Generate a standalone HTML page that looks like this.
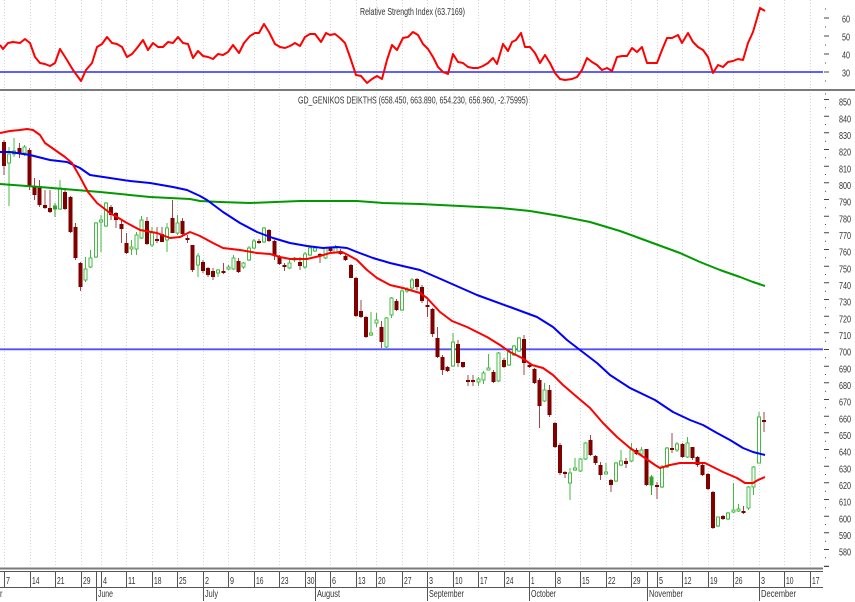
<!DOCTYPE html>
<html><head><meta charset="utf-8"><style>
html,body{margin:0;padding:0;background:#fff;}
svg{display:block;}
text{font-family:"Liberation Sans",Arial,sans-serif;font-size:10px;fill:#333;}
.r path{stroke:#a04848;fill:none;stroke-width:1}
.r path+path{fill:#800000;stroke:none}
.g path{stroke:#44bb44;fill:none;stroke-width:1}
.g path+path{fill:#fff}
.gf path{stroke:#33aa33;fill:none}
.gf path+path{fill:#22aa22}
</style></head><body>
<svg width="855" height="602" viewBox="0 0 855 602" xmlns="http://www.w3.org/2000/svg">
<rect width="855" height="602" fill="#fff"/>
<!-- vertical dotted grid -->
<g stroke="#d6d6d6" stroke-width="1" stroke-dasharray="1 2">
<path d="M4.5 0V567M30.5 0V567M55.5 0V567M81.5 0V567M101.5 0V567M126.5 0V567M152.5 0V567M177.5 0V567M203.5 0V567M228.5 0V567M254.5 0V567M279.5 0V567M305.5 0V567M330.5 0V567M356.5 0V567M376.5 0V567M402.5 0V567M427.5 0V567M453.5 0V567M478.5 0V567M504.5 0V567M529.5 0V567M555.5 0V567M580.5 0V567M606.5 0V567M631.5 0V567M657.5 0V567M682.5 0V567M708.5 0V567M733.5 0V567M759.5 0V567M784.5 0V567M810.5 0V567"/>
</g>
<!-- panel separator -->
<rect x="0" y="89" width="855" height="2" fill="#7a7a7a"/>
<!-- RSI panel -->
<text x="360" y="15" textLength="105" lengthAdjust="spacingAndGlyphs">Relative Strength Index (63.7169)</text>
<line x1="0" y1="72" x2="823" y2="72" stroke="#2a2aff" stroke-width="1.4"/>
<polyline fill="none" stroke="#ff0000" stroke-width="2" stroke-linejoin="round" points="0,45 3,49 8,43 13,42 20,43 25,39 30,43 35,57 40,63 45,64 50,66 55,63 60,49 67,60 73,70 81,81 86,70 92,63 97,47 102,44 107,37 112,43 117,44 122,47 127,57 132,54 137,48 143,40 148,50 153,43 158,47 163,47 168,42 173,43 178,37 183,43 188,44 193,58 198,51 203,56 208,57 213,59 218,54 223,55 228,52 233,45 239,53 244,43 250,36 255,33 259,33 264,24 269,32 275,44 280,47 285,48 290,46 295,43 300,46 305,37 310,34 315,34 321,42 326,33 330,35 335,34 340,38 345,43 350,57 356,75 361,76 367,83 372,79 377,76 382,79 387,60 392,45 397,50 403,38 408,37 413,32 418,35 423,44 428,49 433,57 438,67 443,72 448,74 453,54 458,62 463,63 468,67 473,68 478,68 483,66 488,63 493,58 497,64 503,44 508,51 512,42 516,40 521,33 525,47 530,47 535,53 540,63 545,55 550,63 555,73 560,79 565,80 572,79 577,77 582,70 587,58 592,62 597,65 602,70 607,68 612,71 617,57 622,56 627,56 632,48 637,52 642,47 647,63 652,63 657,63 662,50 667,38 672,38 678,35 682,43 688,33 693,42 698,47 703,50 708,57 713,73 718,65 723,67 728,62 733,61 738,59 743,60 748,43 753,32 760,8 765,11"/>
<g stroke="#444" stroke-width="1">
<path d="M824 18h5M824 36h5M824 54h5M824 72h5"/>
<path d="M825 9h1M825 27h1M825 45h1M825 63h1M825 81h1"/>
</g>
<text x="842" y="22.7" textLength="8" lengthAdjust="spacingAndGlyphs">60</text>
<text x="842" y="40.5" textLength="8" lengthAdjust="spacingAndGlyphs">50</text>
<text x="842" y="58.5" textLength="8" lengthAdjust="spacingAndGlyphs">40</text>
<text x="842" y="76.5" textLength="8" lengthAdjust="spacingAndGlyphs">30</text>
<!-- main panel -->
<text x="298" y="103.5" textLength="230" lengthAdjust="spacingAndGlyphs">GD_GENIKOS DEIKTHS (658.450, 663.890, 654.230, 656.960, -2.75995)</text>
<line x1="0" y1="349.3" x2="823" y2="349.3" stroke="#5050ff" stroke-width="1.8"/>
<!-- candles -->
<g shape-rendering="crispEdges">
<g class="r" transform="translate(4)"><path d="M0 140V175"/><path d="M-2 142H2V166H-2Z"/></g>
<g class="g" transform="translate(9.1)"><path d="M0 147V206"/><path d="M-1.5 154H1.5V163H-1.5Z"/></g>
<g class="g" transform="translate(14.2)"><path d="M0 138V157"/><path d="M-1.5 151H1.5V154H-1.5Z"/></g>
<g class="r" transform="translate(19.3)"><path d="M0 143V158"/><path d="M-2 148H2V154H-2Z"/></g>
<g class="g" transform="translate(24.4)"><path d="M0 145V156"/><path d="M-1.5 147H1.5V153H-1.5Z"/></g>
<g class="r" transform="translate(29.5)"><path d="M0 148V190"/><path d="M-2 150H2V186H-2Z"/></g>
<g class="r" transform="translate(34.6)"><path d="M0 178V200"/><path d="M-2 186H2V195H-2Z"/></g>
<g class="r" transform="translate(39.7)"><path d="M0 180V207"/><path d="M-2 188H2V205H-2Z"/></g>
<g class="r" transform="translate(44.8)"><path d="M0 190V209"/><path d="M-2 205H2V208H-2Z"/></g>
<g class="r" transform="translate(49.9)"><path d="M0 190V213"/><path d="M-2 208H2V212H-2Z"/></g>
<g class="gf" transform="translate(55)"><path d="M0 203V217"/><path d="M-1.5 206H1.5V209H-1.5Z"/></g>
<g class="g" transform="translate(60.1)"><path d="M0 180V210"/><path d="M-1.5 188H1.5V209H-1.5Z"/></g>
<g class="r" transform="translate(65.2)"><path d="M0 190V210"/><path d="M-2 192H2V209H-2Z"/></g>
<g class="r" transform="translate(70.3)"><path d="M0 196V233"/><path d="M-2 197H2V232H-2Z"/></g>
<g class="r" transform="translate(75.4)"><path d="M0 223V260"/><path d="M-2 227H2V258H-2Z"/></g>
<g class="r" transform="translate(80.5)"><path d="M0 262V291"/><path d="M-2 263H2V287H-2Z"/></g>
<g class="g" transform="translate(85.6)"><path d="M0 257V282"/><path d="M-1.5 269H1.5V280H-1.5Z"/></g>
<g class="g" transform="translate(90.7)"><path d="M0 250V268"/><path d="M-1.5 258H1.5V267H-1.5Z"/></g>
<g class="g" transform="translate(95.8)"><path d="M0 222V258"/><path d="M-1.5 223H1.5V257H-1.5Z"/></g>
<g class="g" transform="translate(100.9)"><path d="M0 215V252"/><path d="M-1.5 220H1.5V222H-1.5Z"/></g>
<g class="g" transform="translate(106)"><path d="M0 202V227"/><path d="M-1.5 203H1.5V226H-1.5Z"/></g>
<g class="r" transform="translate(111.1)"><path d="M0 205V220"/><path d="M-2 207H2V215H-2Z"/></g>
<g class="r" transform="translate(116.2)"><path d="M0 212V228"/><path d="M-2 213H2V220H-2Z"/></g>
<g class="r" transform="translate(121.3)"><path d="M0 220V243"/><path d="M-2 224H2V229H-2Z"/></g>
<g class="r" transform="translate(126.4)"><path d="M0 233V254"/><path d="M-2 243H2V253H-2Z"/></g>
<g class="g" transform="translate(131.5)"><path d="M0 240V255"/><path d="M-1.5 247H1.5V249H-1.5Z"/></g>
<g class="g" transform="translate(136.6)"><path d="M0 232V255"/><path d="M-1.5 235H1.5V249H-1.5Z"/></g>
<g class="g" transform="translate(141.7)"><path d="M0 216V239"/><path d="M-1.5 220H1.5V238H-1.5Z"/></g>
<g class="r" transform="translate(146.8)"><path d="M0 217V245"/><path d="M-2 221H2V244H-2Z"/></g>
<g class="g" transform="translate(151.9)"><path d="M0 227V247"/><path d="M-1.5 233H1.5V245H-1.5Z"/></g>
<g class="r" transform="translate(157)"><path d="M0 227V243"/><path d="M-2 239H2V241H-2Z"/></g>
<g class="r" transform="translate(162.1)"><path d="M0 227V242"/><path d="M-2 234H2V242H-2Z"/></g>
<g class="g" transform="translate(167.2)"><path d="M0 223V252"/><path d="M-1.5 228H1.5V240H-1.5Z"/></g>
<g class="r" transform="translate(172.3)"><path d="M0 200V233"/><path d="M-2 218H2V233H-2Z"/></g>
<g class="g" transform="translate(177.4)"><path d="M0 215V235"/><path d="M-1.5 223H1.5V233H-1.5Z"/></g>
<g class="r" transform="translate(182.5)"><path d="M0 218V237"/><path d="M-2 221H2V234H-2Z"/></g>
<g class="r" transform="translate(187.6)"><path d="M0 235V243"/><path d="M-2 238H2V240H-2Z"/></g>
<g class="r" transform="translate(192.7)"><path d="M0 245V272"/><path d="M-2 245H2V270H-2Z"/></g>
<g class="g" transform="translate(197.8)"><path d="M0 253V277"/><path d="M-1.5 256H1.5V265H-1.5Z"/></g>
<g class="r" transform="translate(202.9)"><path d="M0 260V273"/><path d="M-2 262H2V271H-2Z"/></g>
<g class="r" transform="translate(208)"><path d="M0 267V277"/><path d="M-2 268H2V275H-2Z"/></g>
<g class="r" transform="translate(213.1)"><path d="M0 268V280"/><path d="M-2 271H2V277H-2Z"/></g>
<g class="g" transform="translate(218.2)"><path d="M0 269V277"/><path d="M-1.5 270H1.5V273H-1.5Z"/></g>
<g class="r" transform="translate(223.3)"><path d="M0 263V274"/><path d="M-2 271H2V273H-2Z"/></g>
<g class="g" transform="translate(228.4)"><path d="M0 265V270"/><path d="M-1.5 267H1.5V269H-1.5Z"/></g>
<g class="g" transform="translate(233.5)"><path d="M0 255V270"/><path d="M-1.5 258H1.5V269H-1.5Z"/></g>
<g class="r" transform="translate(238.6)"><path d="M0 258V273"/><path d="M-2 261H2V272H-2Z"/></g>
<g class="g" transform="translate(243.7)"><path d="M0 262V269"/><path d="M-1.5 263H1.5V267H-1.5Z"/></g>
<g class="g" transform="translate(248.8)"><path d="M0 246V261"/><path d="M-1.5 248H1.5V260H-1.5Z"/></g>
<g class="g" transform="translate(253.9)"><path d="M0 239V249"/><path d="M-1.5 241H1.5V248H-1.5Z"/></g>
<g class="r" transform="translate(259)"><path d="M0 239V244"/><path d="M-2 241H2V243H-2Z"/></g>
<g class="g" transform="translate(264.1)"><path d="M0 227V243"/><path d="M-1.5 228H1.5V242H-1.5Z"/></g>
<g class="r" transform="translate(269.2)"><path d="M0 229V242"/><path d="M-2 230H2V241H-2Z"/></g>
<g class="r" transform="translate(274.3)"><path d="M0 240V260"/><path d="M-2 241H2V255H-2Z"/></g>
<g class="r" transform="translate(279.4)"><path d="M0 255V265"/><path d="M-2 257H2V264H-2Z"/></g>
<g class="r" transform="translate(284.5)"><path d="M0 263V271"/><path d="M-2 265H2V267H-2Z"/></g>
<g class="g" transform="translate(289.6)"><path d="M0 260V269"/><path d="M-1.5 263H1.5V268H-1.5Z"/></g>
<g class="g" transform="translate(294.7)"><path d="M0 257V262"/><path d="M-1.5 258H1.5V260H-1.5Z"/></g>
<g class="r" transform="translate(299.8)"><path d="M0 257V270"/><path d="M-2 262H2V266H-2Z"/></g>
<g class="g" transform="translate(304.9)"><path d="M0 252V269"/><path d="M-1.5 254H1.5V267H-1.5Z"/></g>
<g class="g" transform="translate(310)"><path d="M0 247V256"/><path d="M-1.5 248H1.5V255H-1.5Z"/></g>
<g class="g" transform="translate(315.1)"><path d="M0 246V252"/><path d="M-1.5 248H1.5V251H-1.5Z"/></g>
<g class="r" transform="translate(320.2)"><path d="M0 253V263"/><path d="M-2 254H2V256H-2Z"/></g>
<g class="g" transform="translate(325.3)"><path d="M0 247V259"/><path d="M-1.5 248H1.5V258H-1.5Z"/></g>
<g class="r" transform="translate(330.4)"><path d="M0 247V252"/><path d="M-2 248H2V251H-2Z"/></g>
<g class="g" transform="translate(335.5)"><path d="M0 245V253"/><path d="M-1.5 248H1.5V253H-1.5Z"/></g>
<g class="r" transform="translate(340.6)"><path d="M0 249V255"/><path d="M-2 251H2V254H-2Z"/></g>
<g class="r" transform="translate(345.7)"><path d="M0 255V261"/><path d="M-2 256H2V260H-2Z"/></g>
<g class="r" transform="translate(350.8)"><path d="M0 264V278"/><path d="M-2 265H2V278H-2Z"/></g>
<g class="r" transform="translate(355.9)"><path d="M0 277V317"/><path d="M-2 278H2V316H-2Z"/></g>
<g class="r" transform="translate(361)"><path d="M0 300V318"/><path d="M-2 311H2V317H-2Z"/></g>
<g class="r" transform="translate(366.1)"><path d="M0 316V338"/><path d="M-2 317H2V337H-2Z"/></g>
<g class="g" transform="translate(371.2)"><path d="M0 312V336"/><path d="M-1.5 333H1.5V335H-1.5Z"/></g>
<g class="g" transform="translate(376.3)"><path d="M0 313V327"/><path d="M-1.5 320H1.5V323H-1.5Z"/></g>
<g class="r" transform="translate(381.4)"><path d="M0 321V348"/><path d="M-2 327H2V342H-2Z"/></g>
<g class="g" transform="translate(386.5)"><path d="M0 317V348"/><path d="M-1.5 318H1.5V347H-1.5Z"/></g>
<g class="g" transform="translate(391.6)"><path d="M0 297V318"/><path d="M-1.5 298H1.5V315H-1.5Z"/></g>
<g class="r" transform="translate(396.7)"><path d="M0 299V311"/><path d="M-2 301H2V310H-2Z"/></g>
<g class="g" transform="translate(401.8)"><path d="M0 288V311"/><path d="M-1.5 291H1.5V310H-1.5Z"/></g>
<g class="g" transform="translate(406.9)"><path d="M0 287V293"/><path d="M-1.5 289H1.5V291H-1.5Z"/></g>
<g class="g" transform="translate(412)"><path d="M0 278V290"/><path d="M-1.5 280H1.5V288H-1.5Z"/></g>
<g class="r" transform="translate(417.1)"><path d="M0 278V290"/><path d="M-2 279H2V287H-2Z"/></g>
<g class="r" transform="translate(422.2)"><path d="M0 285V303"/><path d="M-2 287H2V301H-2Z"/></g>
<g class="r" transform="translate(427.3)"><path d="M0 300V317"/><path d="M-2 305H2V307H-2Z"/></g>
<g class="r" transform="translate(432.4)"><path d="M0 308V337"/><path d="M-2 309H2V334H-2Z"/></g>
<g class="r" transform="translate(437.5)"><path d="M0 327V358"/><path d="M-2 338H2V357H-2Z"/></g>
<g class="r" transform="translate(442.6)"><path d="M0 355V375"/><path d="M-2 357H2V370H-2Z"/></g>
<g class="r" transform="translate(447.7)"><path d="M0 366V372"/><path d="M-2 367H2V371H-2Z"/></g>
<g class="g" transform="translate(452.8)"><path d="M0 333V367"/><path d="M-1.5 342H1.5V366H-1.5Z"/></g>
<g class="r" transform="translate(457.9)"><path d="M0 340V367"/><path d="M-2 344H2V363H-2Z"/></g>
<g class="r" transform="translate(463)"><path d="M0 362V368"/><path d="M-2 362H2V367H-2Z"/></g>
<g class="r" transform="translate(468.1)"><path d="M0 375V386"/><path d="M-2 380H2V382H-2Z"/></g>
<g class="r" transform="translate(473.2)"><path d="M0 375V386"/><path d="M-2 380H2V382H-2Z"/></g>
<g class="g" transform="translate(478.3)"><path d="M0 377V386"/><path d="M-1.5 379H1.5V382H-1.5Z"/></g>
<g class="g" transform="translate(483.4)"><path d="M0 371V384"/><path d="M-1.5 373H1.5V380H-1.5Z"/></g>
<g class="g" transform="translate(488.5)"><path d="M0 354V370"/><path d="M-1.5 368H1.5V370H-1.5Z"/></g>
<g class="r" transform="translate(493.6)"><path d="M0 370V383"/><path d="M-2 372H2V382H-2Z"/></g>
<g class="g" transform="translate(498.7)"><path d="M0 352V382"/><path d="M-1.5 353H1.5V381H-1.5Z"/></g>
<g class="r" transform="translate(503.8)"><path d="M0 358V368"/><path d="M-2 360H2V367H-2Z"/></g>
<g class="g" transform="translate(508.9)"><path d="M0 350V366"/><path d="M-1.5 352H1.5V365H-1.5Z"/></g>
<g class="g" transform="translate(514)"><path d="M0 345V356"/><path d="M-1.5 346H1.5V355H-1.5Z"/></g>
<g class="g" transform="translate(519.1)"><path d="M0 337V352"/><path d="M-1.5 338H1.5V351H-1.5Z"/></g>
<g class="r" transform="translate(524.2)"><path d="M0 335V375"/><path d="M-2 339H2V363H-2Z"/></g>
<g class="r" transform="translate(529.3)"><path d="M0 363V368"/><path d="M-2 365H2V367H-2Z"/></g>
<g class="r" transform="translate(534.4)"><path d="M0 368V384"/><path d="M-2 369H2V383H-2Z"/></g>
<g class="r" transform="translate(539.5)"><path d="M0 378V428"/><path d="M-2 380H2V406H-2Z"/></g>
<g class="g" transform="translate(544.6)"><path d="M0 383V402"/><path d="M-1.5 390H1.5V401H-1.5Z"/></g>
<g class="r" transform="translate(549.7)"><path d="M0 385V417"/><path d="M-2 390H2V415H-2Z"/></g>
<g class="r" transform="translate(554.8)"><path d="M0 422V448"/><path d="M-2 423H2V447H-2Z"/></g>
<g class="r" transform="translate(559.9)"><path d="M0 443V475"/><path d="M-2 445H2V473H-2Z"/></g>
<g class="r" transform="translate(565)"><path d="M0 471V478"/><path d="M-2 472H2V474H-2Z"/></g>
<g class="g" transform="translate(570.1)"><path d="M0 468V500"/><path d="M-1.5 473H1.5V483H-1.5Z"/></g>
<g class="g" transform="translate(575.2)"><path d="M0 458V471"/><path d="M-1.5 468H1.5V470H-1.5Z"/></g>
<g class="g" transform="translate(580.3)"><path d="M0 458V472"/><path d="M-1.5 459H1.5V471H-1.5Z"/></g>
<g class="g" transform="translate(585.4)"><path d="M0 442V460"/><path d="M-1.5 443H1.5V459H-1.5Z"/></g>
<g class="r" transform="translate(590.5)"><path d="M0 435V456"/><path d="M-2 440H2V455H-2Z"/></g>
<g class="r" transform="translate(595.6)"><path d="M0 455V465"/><path d="M-2 456H2V463H-2Z"/></g>
<g class="r" transform="translate(600.7)"><path d="M0 462V480"/><path d="M-2 465H2V475H-2Z"/></g>
<g class="g" transform="translate(605.8)"><path d="M0 463V474"/><path d="M-1.5 472H1.5V474H-1.5Z"/></g>
<g class="r" transform="translate(610.9)"><path d="M0 479V492"/><path d="M-2 480H2V485H-2Z"/></g>
<g class="g" transform="translate(616)"><path d="M0 462V482"/><path d="M-1.5 463H1.5V481H-1.5Z"/></g>
<g class="g" transform="translate(621.1)"><path d="M0 450V466"/><path d="M-1.5 461H1.5V465H-1.5Z"/></g>
<g class="r" transform="translate(626.2)"><path d="M0 458V468"/><path d="M-2 461H2V464H-2Z"/></g>
<g class="g" transform="translate(631.3)"><path d="M0 443V462"/><path d="M-1.5 450H1.5V461H-1.5Z"/></g>
<g class="r" transform="translate(636.4)"><path d="M0 448V455"/><path d="M-2 450H2V454H-2Z"/></g>
<g class="g" transform="translate(641.5)"><path d="M0 447V455"/><path d="M-1.5 450H1.5V454H-1.5Z"/></g>
<g class="r" transform="translate(646.6)"><path d="M0 449V486"/><path d="M-2 449H2V485H-2Z"/></g>
<g class="gf" transform="translate(651.7)"><path d="M0 475V495"/><path d="M-1.5 477H1.5V485H-1.5Z"/></g>
<g class="r" transform="translate(656.8)"><path d="M0 482V499"/><path d="M-2 485H2V487H-2Z"/></g>
<g class="g" transform="translate(661.9)"><path d="M0 465V488"/><path d="M-1.5 467H1.5V487H-1.5Z"/></g>
<g class="g" transform="translate(667)"><path d="M0 447V468"/><path d="M-1.5 448H1.5V467H-1.5Z"/></g>
<g class="r" transform="translate(672.1)"><path d="M0 433V453"/><path d="M-2 448H2V450H-2Z"/></g>
<g class="g" transform="translate(677.2)"><path d="M0 442V452"/><path d="M-1.5 444H1.5V450H-1.5Z"/></g>
<g class="r" transform="translate(682.3)"><path d="M0 443V458"/><path d="M-2 444H2V457H-2Z"/></g>
<g class="g" transform="translate(687.4)"><path d="M0 437V458"/><path d="M-1.5 443H1.5V457H-1.5Z"/></g>
<g class="r" transform="translate(692.5)"><path d="M0 447V460"/><path d="M-2 447H2V458H-2Z"/></g>
<g class="r" transform="translate(697.6)"><path d="M0 456V467"/><path d="M-2 457H2V465H-2Z"/></g>
<g class="r" transform="translate(702.7)"><path d="M0 463V476"/><path d="M-2 465H2V475H-2Z"/></g>
<g class="r" transform="translate(707.8)"><path d="M0 473V490"/><path d="M-2 474H2V489H-2Z"/></g>
<g class="r" transform="translate(712.9)"><path d="M0 491V529"/><path d="M-2 492H2V528H-2Z"/></g>
<g class="g" transform="translate(718)"><path d="M0 517V527"/><path d="M-1.5 517H1.5V526H-1.5Z"/></g>
<g class="r" transform="translate(723.1)"><path d="M0 515V520"/><path d="M-2 516H2V519H-2Z"/></g>
<g class="g" transform="translate(728.2)"><path d="M0 512V520"/><path d="M-1.5 513H1.5V519H-1.5Z"/></g>
<g class="g" transform="translate(733.3)"><path d="M0 483V513"/><path d="M-1.5 510H1.5V512H-1.5Z"/></g>
<g class="g" transform="translate(738.4)"><path d="M0 504V512"/><path d="M-1.5 509H1.5V511H-1.5Z"/></g>
<g class="r" transform="translate(743.5)"><path d="M0 506V514"/><path d="M-2 511H2V513H-2Z"/></g>
<g class="g" transform="translate(748.6)"><path d="M0 486V510"/><path d="M-1.5 487H1.5V508H-1.5Z"/></g>
<g class="g" transform="translate(753.7)"><path d="M0 466V495"/><path d="M-1.5 467H1.5V487H-1.5Z"/></g>
<g class="g" transform="translate(758.8)"><path d="M0 412V463"/><path d="M-1.5 417H1.5V463H-1.5Z"/></g>
<g class="r" transform="translate(763.9)"><path d="M0 412V432"/><path d="M-2 420H2V422H-2Z"/></g>
</g>
<!-- moving averages -->
<polyline fill="none" stroke="#009a00" stroke-width="2" stroke-linejoin="round" points="0,184 40,187 100,192 150,197 190,199 200,201 220,202 250,203 300,201 357,201 383,203 420,204 460,206 500,208 530,211 560,216 590,222 620,231 650,242 680,253 700,262 720,270 740,277 753,282 765,286"/>
<polyline fill="none" stroke="#0000ff" stroke-width="2" stroke-linejoin="round" points="0,152 10,152 30,155 50,160 67,162 80,168 90,175 110,178 130,181 150,183 173,187 187,190 200,196 207,200 223,212 240,223 257,232 273,238 290,243 307,246 323,248 337,247 347,248 357,252 373,258 390,263 407,267 420,270 443,280 477,295 510,307 537,317 553,327 567,340 580,350 597,363 610,375 630,388 655,400 673,412 690,420 703,425 717,433 730,440 743,448 753,452 765,455"/>
<polyline fill="none" stroke="#ff0000" stroke-width="2" stroke-linejoin="round" points="0,133 10,131 20,130 27,129 33,130 40,135 45,143 55,150 65,157 72,163 80,177 88,192 97,203 110,213 127,223 140,230 157,233 170,238 180,237 190,232 200,236 213,243 223,248 240,250 257,253 270,254 280,257 290,259 307,259 320,256 330,253 342,252 348,255 357,260 367,270 377,278 390,285 403,288 420,293 427,298 440,312 452,321 467,327 487,337 500,345 510,352 522,358 532,365 543,368 553,375 563,385 577,397 590,408 603,423 617,437 630,448 645,458 655,465 660,468 670,465 680,463 690,463 705,463 713,467 723,472 737,478 745,483 753,483 758,480 765,477"/>
<!-- main price axis -->
<g stroke="#444" stroke-width="1">
<path d="M824 99.5h5M824 116.2h5M824 132.8h5M824 149.5h5M824 166.2h5M824 182.8h5M824 199.5h5M824 216.2h5M824 232.8h5M824 249.5h5M824 266.2h5M824 282.8h5M824 299.5h5M824 316.2h5M824 332.8h5M824 349.5h5M824 366.2h5M824 382.8h5M824 399.5h5M824 416.2h5M824 432.8h5M824 449.5h5M824 466.2h5M824 482.8h5M824 499.5h5M824 516.2h5M824 532.8h5M824 549.5h5M824 566.2h5"/>
<path d="M825 94h1M825 107.8h1M825 124.5h1M825 141.2h1M825 157.8h1M825 174.5h1M825 191.2h1M825 207.8h1M825 224.5h1M825 241.2h1M825 257.8h1M825 274.5h1M825 291.2h1M825 307.8h1M825 324.5h1M825 341.2h1M825 357.8h1M825 374.5h1M825 391.2h1M825 407.8h1M825 424.5h1M825 441.2h1M825 457.8h1M825 474.5h1M825 491.2h1M825 507.8h1M825 524.5h1M825 541.2h1M825 557.8h1"/>
</g>
<g>
<text x="839" y="105.7" textLength="12" lengthAdjust="spacingAndGlyphs">850</text>
<text x="839" y="122.4" textLength="12" lengthAdjust="spacingAndGlyphs">840</text>
<text x="839" y="139" textLength="12" lengthAdjust="spacingAndGlyphs">830</text>
<text x="839" y="155.7" textLength="12" lengthAdjust="spacingAndGlyphs">820</text>
<text x="839" y="172.4" textLength="12" lengthAdjust="spacingAndGlyphs">810</text>
<text x="839" y="189" textLength="12" lengthAdjust="spacingAndGlyphs">800</text>
<text x="839" y="205.7" textLength="12" lengthAdjust="spacingAndGlyphs">790</text>
<text x="839" y="222.4" textLength="12" lengthAdjust="spacingAndGlyphs">780</text>
<text x="839" y="239" textLength="12" lengthAdjust="spacingAndGlyphs">770</text>
<text x="839" y="255.7" textLength="12" lengthAdjust="spacingAndGlyphs">760</text>
<text x="839" y="272.4" textLength="12" lengthAdjust="spacingAndGlyphs">750</text>
<text x="839" y="289" textLength="12" lengthAdjust="spacingAndGlyphs">740</text>
<text x="839" y="305.7" textLength="12" lengthAdjust="spacingAndGlyphs">730</text>
<text x="839" y="322.4" textLength="12" lengthAdjust="spacingAndGlyphs">720</text>
<text x="839" y="339" textLength="12" lengthAdjust="spacingAndGlyphs">710</text>
<text x="839" y="355.7" textLength="12" lengthAdjust="spacingAndGlyphs">700</text>
<text x="839" y="372.4" textLength="12" lengthAdjust="spacingAndGlyphs">690</text>
<text x="839" y="389" textLength="12" lengthAdjust="spacingAndGlyphs">680</text>
<text x="839" y="405.7" textLength="12" lengthAdjust="spacingAndGlyphs">670</text>
<text x="839" y="422.4" textLength="12" lengthAdjust="spacingAndGlyphs">660</text>
<text x="839" y="439" textLength="12" lengthAdjust="spacingAndGlyphs">650</text>
<text x="839" y="455.7" textLength="12" lengthAdjust="spacingAndGlyphs">640</text>
<text x="839" y="472.4" textLength="12" lengthAdjust="spacingAndGlyphs">630</text>
<text x="839" y="489" textLength="12" lengthAdjust="spacingAndGlyphs">620</text>
<text x="839" y="505.7" textLength="12" lengthAdjust="spacingAndGlyphs">610</text>
<text x="839" y="522.4" textLength="12" lengthAdjust="spacingAndGlyphs">600</text>
<text x="839" y="539" textLength="12" lengthAdjust="spacingAndGlyphs">590</text>
<text x="839" y="555.7" textLength="12" lengthAdjust="spacingAndGlyphs">580</text>
</g>
<!-- bottom date axis -->
<rect x="0" y="567.5" width="823" height="2" fill="#7a7a7a"/>
<line x1="0" y1="571.5" x2="823" y2="571.5" stroke="#555" stroke-width="1"/>
<line x1="0" y1="587.5" x2="823" y2="587.5" stroke="#555" stroke-width="1"/>
<g stroke="#555" stroke-width="1">
<path d="M4.5 572V587M30.5 572V587M55.5 572V587M81.5 572V587M101.5 572V587M126.5 572V587M152.5 572V587M177.5 572V587M228.5 572V587M254.5 572V587M279.5 572V587M305.5 572V587M330.5 572V587M356.5 572V587M376.5 572V587M402.5 572V587M453.5 572V587M478.5 572V587M504.5 572V587M555.5 572V587M580.5 572V587M606.5 572V587M631.5 572V587M657.5 572V587M682.5 572V587M708.5 572V587M733.5 572V587M784.5 572V587M810.5 572V587"/>
<path d="M96.5 572V601M203.5 572V601M315.5 572V601M427.5 572V601M529.5 572V601M647.5 572V601M759.5 572V601"/>
</g>
<g>
<text x="6" y="584" textLength="4" lengthAdjust="spacingAndGlyphs">7</text>
<text x="32" y="584" textLength="7.5" lengthAdjust="spacingAndGlyphs">14</text>
<text x="57" y="584" textLength="7.5" lengthAdjust="spacingAndGlyphs">21</text>
<text x="83" y="584" textLength="7.5" lengthAdjust="spacingAndGlyphs">29</text>
<text x="103" y="584" textLength="4" lengthAdjust="spacingAndGlyphs">4</text>
<text x="128" y="584" textLength="7.5" lengthAdjust="spacingAndGlyphs">11</text>
<text x="154" y="584" textLength="7.5" lengthAdjust="spacingAndGlyphs">18</text>
<text x="179" y="584" textLength="7.5" lengthAdjust="spacingAndGlyphs">25</text>
<text x="205" y="584" textLength="4" lengthAdjust="spacingAndGlyphs">2</text>
<text x="230" y="584" textLength="4" lengthAdjust="spacingAndGlyphs">9</text>
<text x="256" y="584" textLength="7.5" lengthAdjust="spacingAndGlyphs">16</text>
<text x="281" y="584" textLength="7.5" lengthAdjust="spacingAndGlyphs">23</text>
<text x="307" y="584" textLength="7.5" lengthAdjust="spacingAndGlyphs">30</text>
<text x="332" y="584" textLength="4" lengthAdjust="spacingAndGlyphs">6</text>
<text x="358" y="584" textLength="7.5" lengthAdjust="spacingAndGlyphs">13</text>
<text x="378" y="584" textLength="7.5" lengthAdjust="spacingAndGlyphs">20</text>
<text x="404" y="584" textLength="7.5" lengthAdjust="spacingAndGlyphs">27</text>
<text x="429" y="584" textLength="4" lengthAdjust="spacingAndGlyphs">3</text>
<text x="455" y="584" textLength="7.5" lengthAdjust="spacingAndGlyphs">10</text>
<text x="480" y="584" textLength="7.5" lengthAdjust="spacingAndGlyphs">17</text>
<text x="506" y="584" textLength="7.5" lengthAdjust="spacingAndGlyphs">24</text>
<text x="531" y="584" textLength="3.5" lengthAdjust="spacingAndGlyphs">1</text>
<text x="557" y="584" textLength="4" lengthAdjust="spacingAndGlyphs">8</text>
<text x="582" y="584" textLength="7.5" lengthAdjust="spacingAndGlyphs">15</text>
<text x="608" y="584" textLength="7.5" lengthAdjust="spacingAndGlyphs">22</text>
<text x="633" y="584" textLength="7.5" lengthAdjust="spacingAndGlyphs">29</text>
<text x="659" y="584" textLength="4" lengthAdjust="spacingAndGlyphs">5</text>
<text x="684" y="584" textLength="7.5" lengthAdjust="spacingAndGlyphs">12</text>
<text x="710" y="584" textLength="7.5" lengthAdjust="spacingAndGlyphs">19</text>
<text x="735" y="584" textLength="7.5" lengthAdjust="spacingAndGlyphs">26</text>
<text x="761" y="584" textLength="4" lengthAdjust="spacingAndGlyphs">3</text>
<text x="786" y="584" textLength="7.5" lengthAdjust="spacingAndGlyphs">10</text>
<text x="812" y="584" textLength="7.5" lengthAdjust="spacingAndGlyphs">17</text>
</g>
<g>
<text x="0" y="597" textLength="2.5" lengthAdjust="spacingAndGlyphs">r</text>
<text x="98" y="597" textLength="15" lengthAdjust="spacingAndGlyphs">June</text>
<text x="205" y="597" textLength="13" lengthAdjust="spacingAndGlyphs">July</text>
<text x="317" y="597" textLength="23" lengthAdjust="spacingAndGlyphs">August</text>
<text x="429" y="597" textLength="35" lengthAdjust="spacingAndGlyphs">September</text>
<text x="531" y="597" textLength="25" lengthAdjust="spacingAndGlyphs">October</text>
<text x="649" y="597" textLength="34" lengthAdjust="spacingAndGlyphs">November</text>
<text x="761" y="597" textLength="35" lengthAdjust="spacingAndGlyphs">December</text>
</g>
<path d="M824 566.5h5" stroke="#444"/>
</svg>
</body></html>
